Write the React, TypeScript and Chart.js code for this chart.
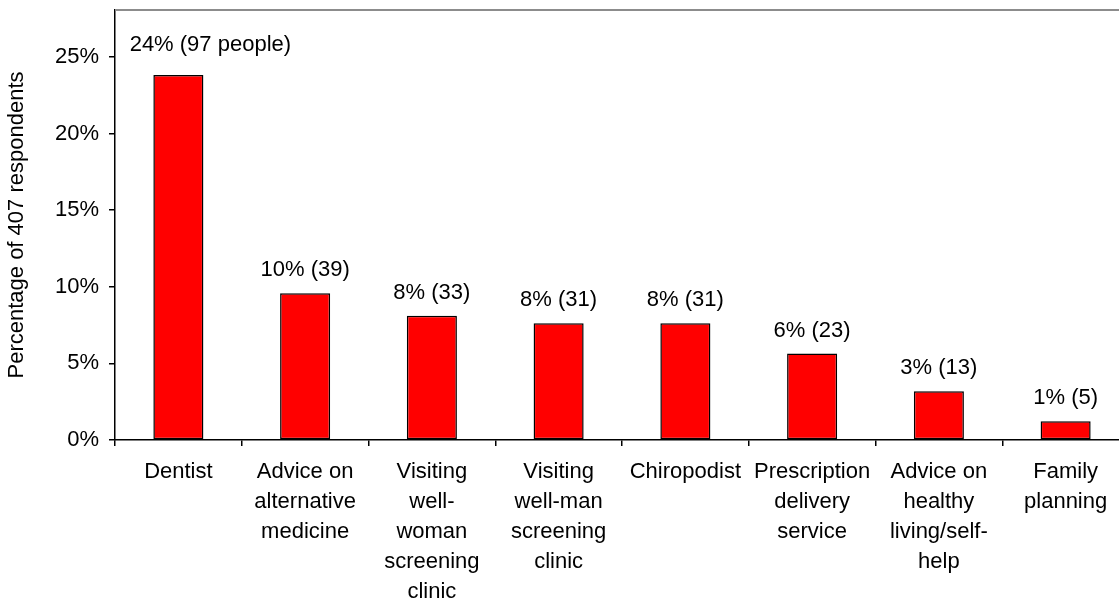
import React, { useEffect, useRef } from "react";
import { Chart, registerables } from "chart.js";

Chart.register(...registerables);

const categories: string[][] = [
  ["Dentist"],
  ["Advice on", "alternative", "medicine"],
  ["Visiting", "well-", "woman", "screening", "clinic"],
  ["Visiting", "well-man", "screening", "clinic"],
  ["Chiropodist"],
  ["Prescription", "delivery", "service"],
  ["Advice on", "healthy", "living/self-", "help"],
  ["Family", "planning"],
];

const percentages: number[] = [23.83, 9.58, 8.11, 7.62, 7.62, 5.65, 3.19, 1.23];

const barLabels: string[] = [
  "24% (97 people)",
  "10% (39)",
  "8% (33)",
  "8% (31)",
  "8% (31)",
  "6% (23)",
  "3% (13)",
  "1% (5)",
];

const yTicks: number[] = [0, 5, 10, 15, 20, 25];
const yMax = 28.07;
const yTitle = "Percentage of 407 respondents";

const FONT = "'Liberation Sans', Arial, sans-serif";

const labelPlugin = {
  id: "barLabels",
  afterDatasetsDraw(chart: any) {
    const ctx = chart.ctx;
    const meta = chart.getDatasetMeta(0);
    ctx.save();
    ctx.font = `22px ${FONT}`;
    ctx.fillStyle = "#000";
    ctx.textAlign = "center";
    ctx.textBaseline = "middle";
    meta.data.forEach((bar: any, i: number) => {
      let x = bar.x;
      let y = bar.y - 23;
      if (i === 0) {
        x += 32;
        y -= 7;
      }
      ctx.fillText(barLabels[i], x, y);
    });
    ctx.restore();
  },
};

const topBorderPlugin = {
  id: "topBorder",
  afterDraw(chart: any) {
    const { ctx, chartArea } = chart;
    ctx.save();
    ctx.strokeStyle = "#8c8c8c";
    ctx.lineWidth = 2;
    ctx.beginPath();
    ctx.moveTo(chartArea.left, chartArea.top);
    ctx.lineTo(chart.width, chartArea.top);
    ctx.stroke();
    ctx.restore();
  },
};

export default function App() {
  const ref = useRef<HTMLCanvasElement | null>(null);

  useEffect(() => {
    if (!ref.current) return;
    const chart = new Chart(ref.current, {
      type: "bar",
      data: {
        labels: categories,
        datasets: [
          {
            data: percentages,
            backgroundColor: "#ff0000",
            borderColor: "#000000",
            borderWidth: 1.5,
            borderSkipped: false,
            categoryPercentage: 1,
            barPercentage: 0.395,
          },
        ],
      },
      options: {
        responsive: false,
        animation: false,
        devicePixelRatio: 1,
        layout: { padding: { top: 10, left: 0, right: 0, bottom: 0 } },
        plugins: {
          legend: { display: false },
          tooltip: { enabled: false },
        },
        scales: {
          x: {
            grid: {
              display: true,
              drawOnChartArea: false,
              drawTicks: true,
              tickLength: 6,
              color: "#000",
              lineWidth: 1.5,
              offset: true,
            },
            border: { display: true, color: "#000", width: 1.5 },
            ticks: {
              color: "#000",
              font: { family: FONT, size: 22, lineHeight: 30 / 22 },
              padding: 11,
              maxRotation: 0,
              minRotation: 0,
              autoSkip: false,
            },
            afterFit(scale: any) {
              scale.height = 163;
              scale.paddingLeft = 0;
              scale.paddingRight = 0;
            },
          },
          y: {
            min: 0,
            max: yMax,
            afterBuildTicks(scale: any) {
              scale.ticks = yTicks.map((v) => ({ value: v }));
            },
            grid: {
              display: true,
              drawOnChartArea: false,
              drawTicks: true,
              tickLength: 6,
              color: "#000",
              lineWidth: 1.5,
            },
            border: { display: true, color: "#000", width: 1.5 },
            ticks: {
              color: "#000",
              font: { family: FONT, size: 22 },
              padding: 10,
              callback: (v: any) => `${v}%`,
            },
            title: {
              display: true,
              text: yTitle,
              color: "#000",
              font: { family: FONT, size: 22, lineHeight: 1.2 },
              padding: { top: 4, bottom: 0 },
            },
            afterFit(scale: any) {
              scale.width = 115;
              scale.paddingTop = 0;
              scale.paddingBottom = 0;
            },
          },
        },
      },
      plugins: [labelPlugin, topBorderPlugin],
    });
    return () => chart.destroy();
  }, []);

  return (
    <div
      style={{
        position: "absolute",
        left: 0,
        top: 0,
        width: 1119,
        height: 603,
        overflow: "hidden",
        background: "#fff",
      }}
    >
      <canvas ref={ref} width={1129} height={603} style={{ display: "block" }} />
    </div>
  );
}
